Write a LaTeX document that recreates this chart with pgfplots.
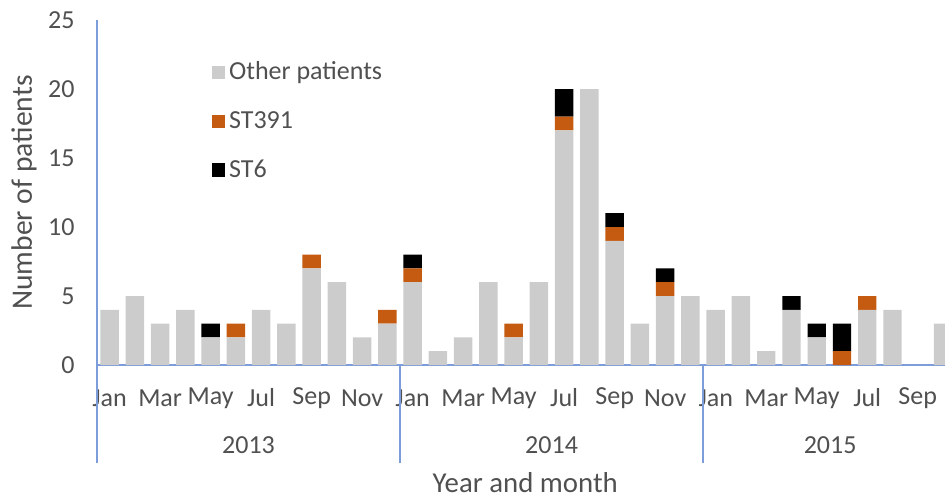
\documentclass[border=0pt]{standalone}
\usepackage{pgfplots}
\pgfplotsset{compat=1.18}
\usepackage{pgfplotstable}
\usepackage{fontspec}
\setmainfont{Carlito}
\definecolor{othergray}{HTML}{CCCCCC}
\definecolor{storange}{HTML}{C55A11}
\definecolor{axblue}{HTML}{7C9CDA}
\definecolor{txt}{HTML}{505050}

\pgfplotstableread{
x other st391 st6
0 4 0 0
1 5 0 0
2 3 0 0
3 4 0 0
4 2 0 1
5 2 1 0
6 4 0 0
7 3 0 0
8 7 1 0
9 6 0 0
10 2 0 0
11 3 1 0
12 6 1 1
13 1 0 0
14 2 0 0
15 6 0 0
16 2 1 0
17 6 0 0
18 17 1 2
19 20 0 0
20 9 1 1
21 3 0 0
22 5 1 1
23 5 0 0
24 4 0 0
25 5 0 0
26 1 0 0
27 4 0 1
28 2 0 1
29 0 1 2
30 4 1 0
31 4 0 0
32 0 0 0
33 3 0 0
}\data

\begin{document}
\begin{tikzpicture}
\path[use as bounding box] (0,0) rectangle (472.5pt,250pt);
\begin{axis}[
  at={(48.5pt,67.5pt)}, anchor=south west,
  scale only axis, width=424pt, height=172.5pt,
  xmin=-0.5, xmax=33.08, ymin=0, ymax=25,
  ybar stacked, bar width=0.73,
  clip mode=individual,
  axis x line=bottom, axis y line=left,
  axis line style={axblue, line width=0.6pt, -},
  ytick={0,5,...,25},
  major tick length=0pt,
  xtick={0,2,...,32},
  xticklabels={Jan,Mar,May,Jul,Sep,Nov,Jan,Mar,May,Jul,Sep,Nov,Jan,Mar,May,Jul,Sep},
  extra x ticks={-0.5,11.5,23.5},
  extra x tick labels={},
  extra x tick style={major tick length=49pt, tick align=outside, tick style={axblue, line width=0.6pt}},
  tick label style={font=\fontsize{13}{15}\selectfont, text=txt},
  xticklabel style={anchor=center, yshift=-16.5pt},
  yticklabel style={anchor=east, inner sep=0pt, xshift=-11pt},
  /pgf/number format/assume math mode=true,
  ylabel={Number of patients},
  ylabel style={font=\fontsize{14.8}{16}\selectfont, text=txt, at={(axis description cs:-0.086,0.5)}, anchor=center},
  xlabel={Year and month},
  xlabel style={font=\fontsize{14.4}{16}\selectfont, text=txt, at={(axis description cs:0.505,0)}, anchor=center, yshift=-59pt},
  legend style={draw=none, fill=none, at={(axis description cs:0.135,0.892)}, anchor=north west, inner sep=0pt, row sep=10.3pt, font=\fontsize{13}{15}\selectfont, text=txt, cells={anchor=west}},
  legend image code/.code={\fill[#1] (0pt,-3.3pt) rectangle (6.6pt,3.3pt);},
]
\addplot[fill=othergray, draw=none] table[x=x, y=other] {\data};
\addplot[fill=storange, draw=none] table[x=x, y=st391] {\data};
\addplot[fill=black, draw=none] table[x=x, y=st6] {\data};
\legend{Other patients, ST391, ST6}
\node[font=\fontsize{13}{15}\selectfont, text=txt] at (axis cs:5.5,0) [yshift=-40pt] {2013};
\node[font=\fontsize{13}{15}\selectfont, text=txt] at (axis cs:17.5,0) [yshift=-40pt] {2014};
\node[font=\fontsize{13}{15}\selectfont, text=txt] at (axis cs:28.53,0) [yshift=-40pt] {2015};
\end{axis}
\end{tikzpicture}
\end{document}
